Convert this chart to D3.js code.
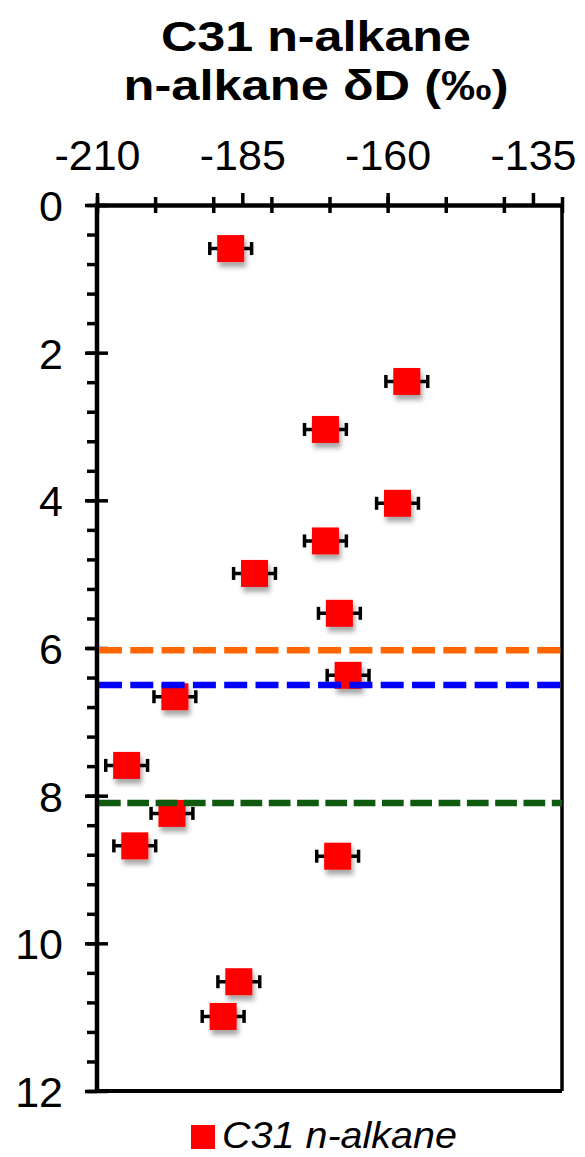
<!DOCTYPE html>
<html>
<head>
<meta charset="utf-8">
<script src="https://cdn.jsdelivr.net/npm/d3@7"></script>
<style>
  html, body { margin: 0; padding: 0; background: #fff; }
  svg { display: block; }
  text { font-family: "Liberation Sans", Arial, Helvetica, sans-serif; fill: #000; }
</style>
</head>
<body>
<script>
// Sample depths (m) and C31 n-alkane δD values (‰)
const depth = [0.59, 2.39, 3.04, 4.04, 4.55, 4.99, 5.53, 6.37, 6.66, 7.59, 8.24, 8.68, 8.82, 10.52, 10.99];
const dD    = [-187.0, -156.7, -170.7, -158.3, -170.7, -182.9, -168.3, -166.8, -196.6, -204.9, -197.1, -203.5, -168.6, -185.6, -188.3];
const dDerr = [3.6, 3.6, 3.6, 3.6, 3.6, 3.6, 3.6, 3.6, 3.6, 3.6, 3.6, 3.6, 3.6, 3.6, 3.6];

// Horizontal reference depths
const refDepths = [6.03, 6.5, 8.1];
const refColors = ["#ff6600", "#0000ff", "#105a10"];

// Axis ticks
const xLabelTicks = [-210, -185, -160, -135];
const xMinorTicks = [-210, -200, -190, -180, -170, -160, -150, -140, -130];
const yLabelTicks = [0, 2, 4, 6, 8, 10, 12];
const yMinorTicks = d3.range(0, 12.001, 0.4).map(d => +d.toFixed(1));

const titleLines = ["C31 n-alkane", "n-alkane δD (‰)"];
const titleWidths = [310, 385];
const legendLabel = "C31 n-alkane";

const W = 585, H = 1157;
const plotL = 97, plotR = 562, plotT = 205, plotB = 1091;

const svg = d3.select("body").append("svg").attr("width", W).attr("height", H);

const defs = svg.append("defs");
const shadow = defs.append("filter").attr("id", "shadow")
  .attr("x", "-50%").attr("y", "-50%").attr("width", "200%").attr("height", "200%");
shadow.append("feDropShadow")
  .attr("dx", 2).attr("dy", 5).attr("stdDeviation", 2.5)
  .attr("flood-color", "#000").attr("flood-opacity", 0.35);

const x = d3.scaleLinear().domain([-210, -130]).range([plotL, plotR]);
const y = d3.scaleLinear().domain([0, 12]).range([plotT, plotB]);

// Title (two centred bold lines)
svg.append("g").selectAll("text").data(titleLines).join("text")
  .attr("x", 316).attr("y", (d, i) => 51 + i * 49)
  .attr("text-anchor", "middle")
  .attr("textLength", (d, i) => titleWidths[i])
  .attr("lengthAdjust", "spacingAndGlyphs")
  .style("font-weight", "bold").style("font-size", "43px")
  .text(d => d);

// Frame: right and bottom edges
svg.append("line").attr("x1", plotR).attr("x2", plotR).attr("y1", plotT).attr("y2", plotB)
  .attr("stroke", "#000").attr("stroke-width", 3.5);
svg.append("line").attr("x1", plotL).attr("x2", plotR).attr("y1", plotB).attr("y2", plotB)
  .attr("stroke", "#000").attr("stroke-width", 4);

// Top axis: labelled ticks pointing outward
const xAxis = svg.append("g").attr("transform", `translate(0,${plotT})`)
  .call(d3.axisTop(x).tickValues(xLabelTicks).tickSizeInner(12).tickSizeOuter(0)
    .tickPadding(23).tickFormat(d => String(d)));
xAxis.select(".domain").attr("stroke-width", 4.5);
xAxis.selectAll(".tick line").attr("stroke-width", 3.5);
xAxis.selectAll(".tick text").style("font-size", "43px").attr("font-family", null);

// Top axis: crossing ticks every 10
const xMinor = svg.append("g").attr("transform", `translate(0,${plotT + 8})`)
  .call(d3.axisTop(x).tickValues(xMinorTicks).tickSizeInner(16).tickSizeOuter(0).tickFormat(""));
xMinor.select(".domain").remove();
xMinor.selectAll(".tick line").attr("stroke-width", 3.5);

// Left axis: minor ticks outward
const yMinor = svg.append("g").attr("transform", `translate(${plotL},0)`)
  .call(d3.axisLeft(y).tickValues(yMinorTicks).tickSizeInner(10).tickSizeOuter(0).tickFormat(""));
yMinor.select(".domain").remove();
yMinor.selectAll(".tick line").attr("stroke-width", 3.5);

// Left axis: labelled crossing ticks
const yAxis = svg.append("g").attr("transform", `translate(${plotL + 11},0)`)
  .call(d3.axisLeft(y).tickValues(yLabelTicks).tickSizeInner(23).tickSizeOuter(0)
    .tickPadding(22).tickFormat(d => String(d)));
yAxis.select(".domain").remove();
yAxis.selectAll(".tick line").attr("stroke-width", 3.5);
yAxis.selectAll(".tick text").style("font-size", "43px").attr("font-family", null)
  .attr("dy", "0.36em");

svg.append("line").attr("x1", plotL).attr("x2", plotL).attr("y1", plotT - 2).attr("y2", plotB + 2)
  .attr("stroke", "#000").attr("stroke-width", 4.5);

// Points with horizontal error bars
const pts = depth.map((d, i) => ({ depth: d, v: dD[i], e: dDerr[i] }));
const g = svg.append("g");
const eb = g.selectAll("g.eb").data(pts).join("g").attr("class", "eb");
eb.append("line")
  .attr("x1", d => x(d.v - d.e)).attr("x2", d => x(d.v + d.e))
  .attr("y1", d => y(d.depth)).attr("y2", d => y(d.depth))
  .attr("stroke", "#000").attr("stroke-width", 3.5);
eb.append("line")
  .attr("x1", d => x(d.v - d.e)).attr("x2", d => x(d.v - d.e))
  .attr("y1", d => y(d.depth) - 6.5).attr("y2", d => y(d.depth) + 6.5)
  .attr("stroke", "#000").attr("stroke-width", 3.5);
eb.append("line")
  .attr("x1", d => x(d.v + d.e)).attr("x2", d => x(d.v + d.e))
  .attr("y1", d => y(d.depth) - 6.5).attr("y2", d => y(d.depth) + 6.5)
  .attr("stroke", "#000").attr("stroke-width", 3.5);

const S = 27;
g.selectAll("rect.pt").data(pts).join("rect").attr("class", "pt")
  .attr("x", d => x(d.v) - S / 2).attr("y", d => y(d.depth) - S / 2)
  .attr("width", S).attr("height", S)
  .attr("fill", "#ff0000").attr("filter", "url(#shadow)");

// Dashed reference lines
svg.append("g").selectAll("line").data(refDepths).join("line")
  .attr("x1", plotL + 2).attr("x2", plotR)
  .attr("y1", d => y(d)).attr("y2", d => y(d))
  .attr("stroke", (d, i) => refColors[i])
  .attr("stroke-width", 6.5)
  .attr("stroke-dasharray", (d, i) => i === 2 ? "21.7,6.6" : "23,8.3");

// Legend
const lg = svg.append("g");
lg.append("rect").attr("x", 191).attr("y", 1125).attr("width", 24).attr("height", 24).attr("fill", "#ff0000");
lg.append("text").attr("x", 222).attr("y", 1148)
  .attr("textLength", 235).attr("lengthAdjust", "spacingAndGlyphs")
  .style("font-style", "italic").style("font-size", "37px").text(legendLabel);
</script>
</body>
</html>
